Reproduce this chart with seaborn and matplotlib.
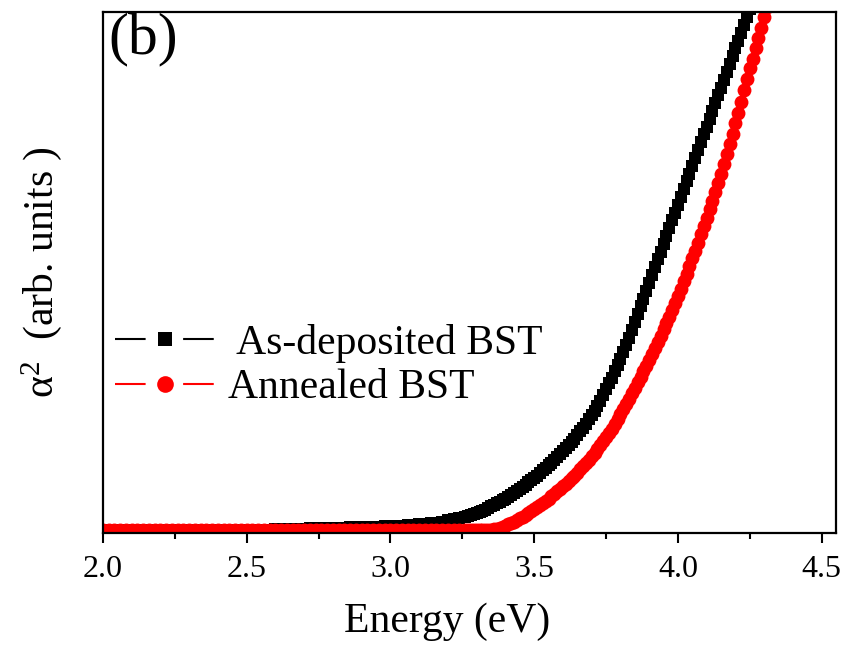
import numpy as np
import pandas as pd
import matplotlib
matplotlib.use("Agg")
import matplotlib.pyplot as plt
import seaborn as sns
from matplotlib.lines import Line2D
from matplotlib.ticker import MultipleLocator

# ---------------- data ----------------
series_names = [" As-deposited BST", "Annealed BST"]
series_colors = ["#000000", "#ff0000"]
series_markers = ["s", "o"]

# energy sampling grid (eV): coarse in the flat part, fine in the rising part
energy_low = [round(2.00 + 0.02 * i, 2) for i in range(64)]    # 2.00 .. 3.26
energy_high = [round(3.27 + 0.01 * i, 2) for i in range(108)]  # 3.27 .. 4.34

as_dep_low = [
    0.5, 0.5, 0.5, 0.5, 0.5, 0.5, 0.5, 0.5, 0.5, 0.5,
    0.5, 0.5, 0.5, 0.5, 0.5, 0.5, 0.5, 0.5, 0.5, 0.5,
    0.5, 0.5, 0.5, 0.5, 0.5, 0.5,
    0.55, 0.6, 0.6, 0.65, 0.7,
    0.7, 0.75, 0.8, 0.8, 0.85, 0.9, 0.95, 1.0,
    1.0, 1.0, 1.05, 1.05, 1.1, 1.1, 1.15, 1.15, 1.2, 1.2, 1.25, 1.3,
    1.35, 1.4, 1.5, 1.55, 1.65, 1.75, 1.85, 2.0, 2.2, 2.4,
    2.6, 2.9, 3.1,
]
as_dep_high = [
    3.3, 3.4, 3.6, 3.8, 4.0, 4.3, 4.5, 4.8, 5.1, 5.4,
    5.7, 6.0, 6.3, 6.6, 6.9, 7.3, 7.6, 8.0, 8.4, 8.8,
    9.2, 9.7, 10.1, 10.6, 11.0, 11.5, 12.0, 12.5, 13.0, 13.5,
    14.0, 14.6, 15.1, 15.7, 16.3, 16.9, 17.5, 18.1, 18.8, 19.5,
    20.2, 21.0, 21.8, 22.6, 23.5, 24.4, 25.4, 26.5, 27.6, 28.7,
    29.8, 31.0, 32.2, 33.4, 34.7, 36.1, 37.5, 39.0, 40.5, 42.0,
    43.5, 45.0, 46.5, 48.0, 49.5, 51.0, 52.5, 54.0, 55.5, 57.0,
    58.5, 60.0, 61.5, 63.0, 64.5, 66.0, 67.5, 69.0, 70.5, 72.0,
    73.5, 75.0, 76.5, 78.0, 79.5, 81.0, 82.5, 84.0, 85.5, 87.0,
    88.5, 90.0, 91.5, 93.0, 94.5, 96.0, 97.5, 99.0, 100.5, 102.0,
    103.5, 105.0, 106.5, 108.0, 109.5, 111.0, 112.5, 114.0,
]
annealed_low = [
    0.5, 0.5, 0.5, 0.5, 0.5, 0.5, 0.5, 0.5, 0.5, 0.5,
    0.5, 0.5, 0.5, 0.5, 0.5, 0.5, 0.5, 0.5, 0.5, 0.5,
    0.5, 0.5, 0.5, 0.5, 0.5, 0.5, 0.5, 0.5, 0.5, 0.5,
    0.5, 0.5, 0.5, 0.5, 0.5, 0.5, 0.5, 0.5, 0.5, 0.5,
    0.5, 0.5, 0.5, 0.5, 0.5, 0.5, 0.5, 0.5, 0.5, 0.5,
    0.5, 0.5, 0.5, 0.5, 0.5, 0.5, 0.5, 0.5, 0.5, 0.5,
    0.5, 0.5, 0.5, 0.5,
]
annealed_high = [
    0.5, 0.5, 0.5, 0.5, 0.5, 0.5, 0.5, 0.5, 0.6, 0.7,
    0.85, 1.0, 1.2, 1.4, 1.65, 1.9, 2.2, 2.5, 2.8, 3.1,
    3.45, 3.8, 4.2, 4.6, 5.0, 5.4, 5.8, 6.2, 6.6, 7.1,
    7.5, 8.0, 8.5, 9.0, 9.5, 10.0, 10.5, 11.0, 11.6, 12.2,
    12.8, 13.4, 14.0, 14.7, 15.4, 16.1, 16.8, 17.6, 18.4, 19.2,
    20.0, 20.9, 21.8, 22.8, 23.8, 24.8, 25.8, 26.8, 27.8, 28.9,
    30.0, 31.0, 32.1, 33.2, 34.3, 35.5, 36.7, 37.9, 39.1, 40.3,
    41.5, 42.8, 44.1, 45.5, 46.9, 48.3, 49.7, 51.2, 52.7, 54.2,
    55.7, 57.3, 58.9, 60.5, 62.1, 63.8, 65.5, 67.2, 69.0, 70.8,
    72.7, 74.6, 76.6, 78.6, 80.7, 82.8, 85.0, 87.2, 89.2, 91.0,
    93.0, 95.0, 97.0, 99.0, 101.0, 103.0, 105.0, 107.0,
]

x_ticks = [2.0, 2.5, 3.0, 3.5, 4.0, 4.5]
x_tick_labels = ["2.0", "2.5", "3.0", "3.5", "4.0", "4.5"]

# ---------------- build table ----------------
energy = energy_low + energy_high
df = pd.concat([
    pd.DataFrame({"Energy": energy, "alpha2": as_dep_low + as_dep_high, "sample": series_names[0]}),
    pd.DataFrame({"Energy": energy, "alpha2": annealed_low + annealed_high, "sample": series_names[1]}),
], ignore_index=True)

# ---------------- style ----------------
sns.set_theme(style="ticks")
plt.rcParams["font.family"] = ["Liberation Serif", "DejaVu Serif"]
plt.rcParams["mathtext.fontset"] = "custom"
plt.rcParams["mathtext.rm"] = "Liberation Serif"
plt.rcParams["mathtext.it"] = "Liberation Serif:italic"
plt.rcParams["text.color"] = "black"
plt.rcParams["axes.labelcolor"] = "black"
plt.rcParams["xtick.color"] = "black"
plt.rcParams["ytick.color"] = "black"

fig = plt.figure(figsize=(8.46, 6.49), dpi=100)
ax = fig.add_axes([103 / 846, 1 - 533 / 649, (836 - 103) / 846, (533 - 12) / 649])

marker_sizes = {series_names[0]: 9.0, series_names[1]: 10.0}
for name, color, mk in zip(series_names, series_colors, series_markers):
    sub = df[df["sample"] == name]
    sns.lineplot(data=sub, x="Energy", y="alpha2", ax=ax, color=color,
                 marker=mk, markersize=marker_sizes[name], markeredgewidth=0,
                 linewidth=1.0, sort=False, estimator=None, legend=False)

ax.set_xlim(2.0, 4.55)
ax.set_ylim(0, 100)
ax.set_xticks(x_ticks)
ax.set_xticklabels(x_tick_labels)
ax.xaxis.set_minor_locator(MultipleLocator(0.25))
ax.set_yticks([])
ax.tick_params(axis="x", which="major", direction="out", length=7, width=1.5,
               labelsize=23, pad=9, colors="black")
ax.tick_params(axis="x", which="minor", direction="out", length=4.5, width=1.5)
for sp in ax.spines.values():
    sp.set_visible(True)
    sp.set_linewidth(1.6)
    sp.set_color("black")

ax.set_xlabel("Energy (eV)", fontsize=30, color="black")
ax.xaxis.set_label_coords(0.469, -0.133)
ax.set_ylabel("α$^{2}$  (arb. units )", fontsize=30, color="black")
ax.yaxis.set_label_coords(-0.053, 0.5)

ax.text(0.008, 0.997, "(b)", transform=ax.transAxes, fontsize=43,
        ha="left", va="top", color="black")

handles = [
    Line2D([], [], color=series_colors[0], marker="s", markersize=10, markeredgewidth=0,
           linewidth=1.5, linestyle=(0, (14.7, 18))),
    Line2D([], [], color=series_colors[1], marker="o", markersize=12, markeredgewidth=0,
           linewidth=1.5, linestyle=(0, (14.7, 18))),
]
ax.legend(handles=handles, labels=series_names, loc="center left",
          bbox_to_anchor=(0.0164, 0.3215), frameon=False, fontsize=30,
          handlelength=72 / 30, handletextpad=0.3, labelspacing=0.14,
          borderpad=0, borderaxespad=0, numpoints=1)

fig.savefig("out.png", dpi=100)
